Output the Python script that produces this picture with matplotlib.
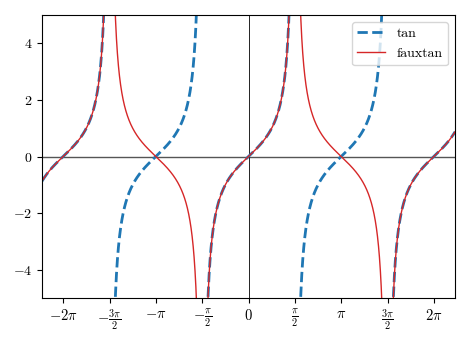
import numpy as np
import matplotlib
matplotlib.use('Agg')
from matplotlib import pyplot as plt

plt.rcParams['font.family'] = 'serif'
plt.rcParams['font.serif'] = ['cmr10']
plt.rcParams['font.size'] = 10
plt.rcParams['mathtext.fontset'] = 'cm'
plt.rcParams['axes.formatter.use_mathtext'] = True
plt.rcParams['axes.unicode_minus'] = True

# x range and ticks
x_min, x_max = -7, 7
y_min, y_max = -5, 5
xtick_vals = [-2 * np.pi, -1.5 * np.pi, -np.pi, -0.5 * np.pi, 0,
              0.5 * np.pi, np.pi, 1.5 * np.pi, 2 * np.pi]
xtick_labels = [r'$-2\pi$', r'$-\frac{3\pi}{2}$', r'$-\pi$', r'$-\frac{\pi}{2}$', r'$0$',
                r'$\frac{\pi}{2}$', r'$\pi$', r'$\frac{3\pi}{2}$', r'$2\pi$']
ytick_vals = [-4, -2, 0, 2, 4]

x = np.linspace(x_min, x_max, 4001)
tan = np.tan(x)
fauxtan = np.sin(x) / np.abs(np.cos(x))

# break lines at the asymptotes
tan[np.abs(tan) > 20] = np.nan
fauxtan[np.abs(fauxtan) > 20] = np.nan

fig = plt.figure(figsize=(4.7, 3.4), dpi=100)
ax = fig.add_axes([0.0894, 0.1235, 0.8787, 0.8324])

ax.axhline(0, color='#555555', lw=1, zorder=1)
ax.axvline(0, color='black', lw=0.6, zorder=1)
ax.plot(x, tan, '--', color='tab:blue', lw=2, label='tan')
ax.plot(x, fauxtan, '-', color='tab:red', lw=1, label='fauxtan')

ax.set_xlim(x_min, x_max)
ax.set_ylim(y_min, y_max)
ax.set_xticks(xtick_vals)
ax.set_xticklabels(xtick_labels, fontsize=10.5)
ax.set_yticks(ytick_vals)
ax.legend(loc='upper right', fontsize=10)

fig.savefig('out.png', dpi=100)
